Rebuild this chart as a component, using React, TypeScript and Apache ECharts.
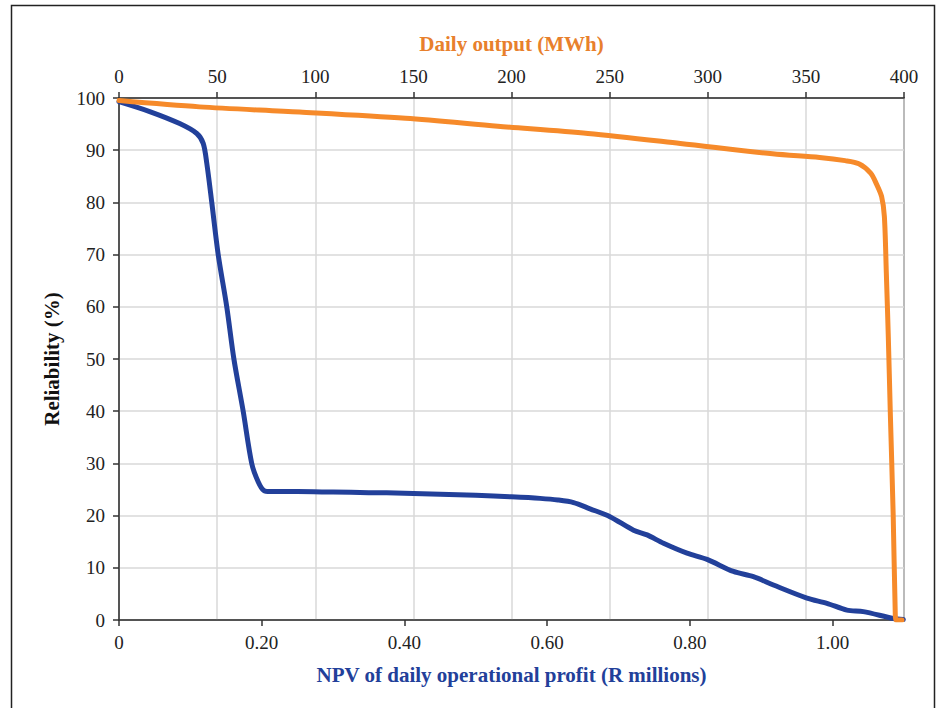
import React, { useEffect, useRef } from "react";
import * as echarts from "echarts";

// NPV of daily operational profit (R millions) vs reliability (%)
const npvX = [0, 0.043, 0.085, 0.109, 0.118, 0.123, 0.13, 0.139, 0.151, 0.161, 0.174, 0.186, 0.195, 0.203, 0.212, 0.25, 0.3, 0.35, 0.4, 0.45, 0.5, 0.55, 0.59, 0.615, 0.637, 0.66, 0.688, 0.721, 0.74, 0.763, 0.796, 0.824, 0.861, 0.889, 0.917, 0.964, 0.992, 1.02, 1.043, 1.085, 1.099];
const npvY = [99.3, 97.4, 95.1, 93.2, 91.3, 87.5, 80, 70, 60, 50, 40, 30, 26.5, 24.8, 24.6, 24.6, 24.5, 24.4, 24.3, 24.1, 23.9, 23.6, 23.3, 23.0, 22.5, 21.3, 19.8, 17.2, 16.3, 14.7, 12.8, 11.6, 9.3, 8.3, 6.7, 4.2, 3.2, 1.9, 1.6, 0.3, 0.1];

// Daily output (MWh) vs reliability (%)
const outX = [0, 41, 92, 146, 193, 239, 286, 333, 357, 370, 377, 383, 386, 388.6, 390, 391, 392, 393, 394.5, 395.5, 396, 399];
const outY = [99.5, 98.3, 97.3, 96.1, 94.6, 93.2, 91.3, 89.3, 88.6, 88.0, 87.4, 85.6, 83.5, 81.1, 77.3, 66.4, 54.3, 40, 20, 2, 0, 0];

const npvTicks = [0, 0.2, 0.4, 0.6, 0.8, 1.0];

const BLUE = "#22409a";
const ORANGE = "#f68a2a";
const ORANGE_TXT = "#e8802c";
const FONT = "'Liberation Serif', 'Times New Roman', serif";
const AXIS = "#333333";
const GRID = "#d9d9d9";

export default function App() {
  const ref = useRef<HTMLDivElement>(null);
  useEffect(() => {
    if (!ref.current) return;
    const chart = echarts.init(ref.current, null, { renderer: "svg" });
    const labelStyle = { color: "#222", fontFamily: FONT, fontSize: 19 };
    chart.setOption({
      animation: false,
      backgroundColor: "#fff",
      graphic: [
        {
          type: "rect",
          shape: { x: 11.5, y: 5.5, width: 923, height: 740 },
          style: { fill: "none", stroke: "#222", lineWidth: 1.5 },
          silent: true,
        },
      ],
      grid: {
        left: 119,
        right: 36,
        top: 98,
        bottom: 88,
        show: true,
        borderColor: AXIS,
        borderWidth: 1.5,
        backgroundColor: "transparent",
      },
      xAxis: [
        {
          type: "value",
          position: "bottom",
          min: 0,
          max: 1.1,
          interval: 0.2,
          name: "NPV of daily operational profit (R millions)",
          nameLocation: "middle",
          nameGap: 44,
          nameTextStyle: { color: BLUE, fontFamily: FONT, fontSize: 21, fontWeight: "bold" },
          axisLine: { show: true, lineStyle: { color: AXIS, width: 1.5 } },
          axisTick: { show: true, inside: false, length: 6, lineStyle: { color: AXIS, width: 1.5 }, customValues: npvTicks },
          axisLabel: {
            ...labelStyle,
            margin: 13,
            customValues: npvTicks,
            formatter: (v: number) => (v === 0 ? "0" : v.toFixed(2)),
          },
          splitLine: { show: false },
        },
        {
          type: "value",
          position: "top",
          min: 0,
          max: 400,
          interval: 50,
          name: "Daily output (MWh)",
          nameLocation: "middle",
          nameGap: 44,
          nameTextStyle: { color: ORANGE_TXT, fontFamily: FONT, fontSize: 21, fontWeight: "bold" },
          axisLine: { show: true, lineStyle: { color: AXIS, width: 1.5 } },
          axisTick: { show: true, inside: false, length: 6, lineStyle: { color: AXIS, width: 1.5 } },
          axisLabel: { ...labelStyle, margin: 12 },
          splitLine: { show: true, lineStyle: { color: GRID, width: 1.5 } },
        },
      ],
      yAxis: [
        {
          type: "value",
          min: 0,
          max: 100,
          interval: 10,
          name: "Reliability (%)",
          nameLocation: "middle",
          nameGap: 57,
          nameTextStyle: { color: "#111", fontFamily: FONT, fontSize: 21, fontWeight: "bold" },
          axisLine: { show: true, lineStyle: { color: AXIS, width: 1.5 } },
          axisTick: { show: true, inside: false, length: 6, lineStyle: { color: AXIS, width: 1.5 } },
          axisLabel: { ...labelStyle, margin: 14 },
          splitLine: { show: true, lineStyle: { color: GRID, width: 1.5 } },
        },
      ],
      series: [
        {
          type: "line",
          xAxisIndex: 0,
          yAxisIndex: 0,
          data: npvX.map((x, i) => [x, npvY[i]]),
          showSymbol: false,
          smooth: 0.3,
          lineStyle: { color: BLUE, width: 5, cap: "round", join: "round" },
          z: 3,
        },
        {
          type: "line",
          xAxisIndex: 1,
          yAxisIndex: 0,
          data: outX.map((x, i) => [x, outY[i]]),
          showSymbol: false,
          smooth: 0.3,
          lineStyle: { color: ORANGE, width: 5, cap: "round", join: "round" },
          z: 4,
        },
      ],
    });
    return () => chart.dispose();
  }, []);
  return (
    <div
      ref={ref}
      style={{ position: "fixed", left: 0, top: 0, width: 940, height: 708, background: "#fff" }}
    />
  );
}
